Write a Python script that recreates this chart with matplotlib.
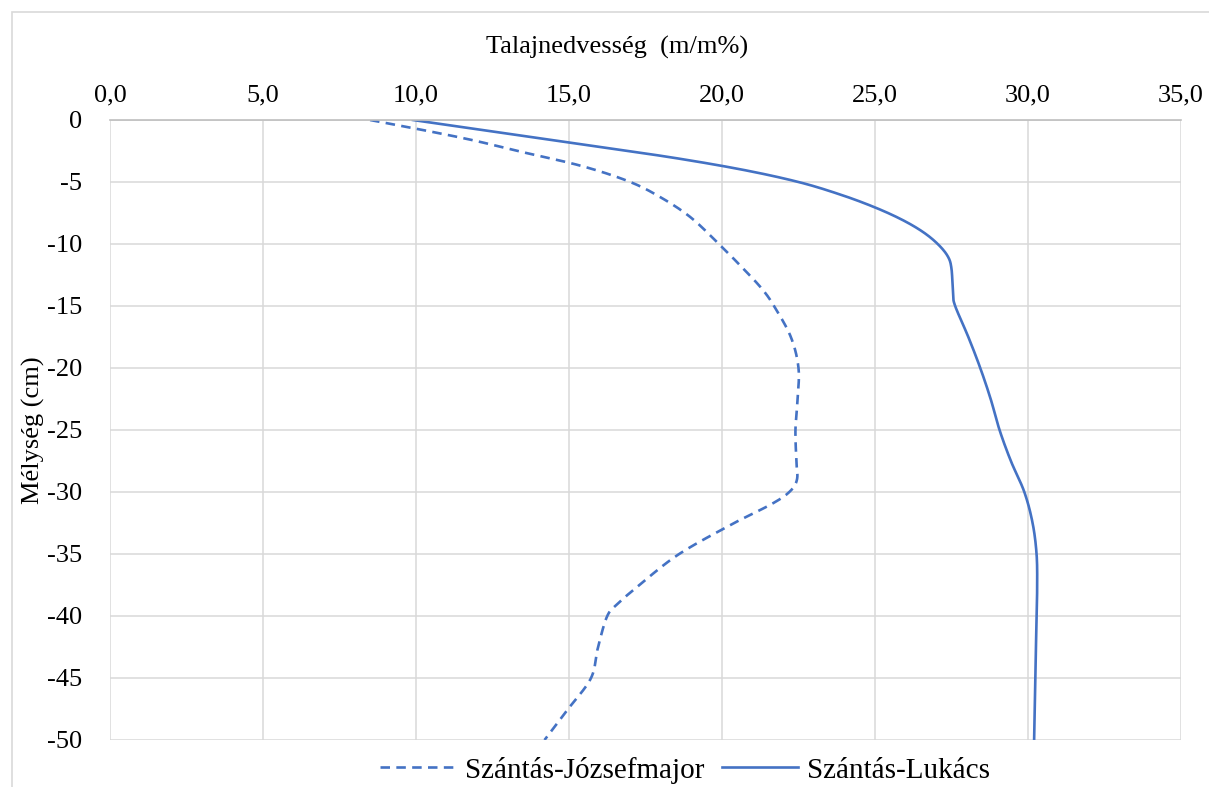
import numpy as np
import matplotlib
matplotlib.use("Agg")
import matplotlib.pyplot as plt
from matplotlib.patches import Rectangle

# depth (cm) and soil moisture (m/m%)
depth_jm = [0, -0.7, -1.6, -2.6, -3.7, -4.9, -6.1, -7.8, -10, -12, -13.6, -15,
            -17.5, -20, -22.5, -25, -27.5, -29, -30, -31, -32.5, -35, -37.5,
            -39, -40, -42.5, -45, -47.5, -50]
moist_jm = [8.5, 10.0, 11.8, 13.5, 15.4, 16.9, 17.9, 18.95, 19.9, 20.7, 21.3, 21.7,
            22.25, 22.5, 22.47, 22.4, 22.43, 22.45, 22.2, 21.6, 20.4, 18.6, 17.3,
            16.6, 16.25, 15.95, 15.72, 14.97, 14.2]

depth_lk = [0, -1, -2, -3, -4, -5, -6, -7, -8, -9, -10, -11, -12, -14, -15,
            -17.5, -20, -22.5, -25, -27.5, -30, -32.5, -35, -37.5, -40, -45, -50]
moist_lk = [9.9, 12.7, 15.5, 18.3, 20.65, 22.5, 23.85, 24.95, 25.85, 26.55, 27.05, 27.38,
            27.5, 27.55, 27.62, 28.05, 28.44, 28.78, 29.07, 29.44, 29.88, 30.15,
            30.28, 30.3, 30.28, 30.24, 30.2]

x_ticks = [0, 5, 10, 15, 20, 25, 30, 35]
y_ticks = [0, -5, -10, -15, -20, -25, -30, -35, -40, -45, -50]

blue = "#4472C4"
grid_c = "#D9D9D9"


def smooth(xs, ys, n=20):
    # catmull-rom through the read points, like excel's smoothed line
    p = np.column_stack([xs, ys]).astype(float)
    p = np.vstack([p[0], p, p[-1]])
    out = []
    for i in range(1, len(p) - 2):
        p0, p1, p2, p3 = p[i - 1], p[i], p[i + 1], p[i + 2]
        t = np.linspace(0, 1, n, endpoint=False)[:, None]
        seg = 0.5 * ((2 * p1) + (-p0 + p2) * t + (2 * p0 - 5 * p1 + 4 * p2 - p3) * t ** 2
                     + (-p0 + 3 * p1 - 3 * p2 + p3) * t ** 3)
        out.append(seg)
    out.append(p[-2][None, :])
    out = np.vstack(out)
    return out[:, 0], out[:, 1]


plt.rcParams['font.family'] = ['Liberation Serif', 'DejaVu Serif']
plt.rcParams['axes.unicode_minus'] = False

fig = plt.figure(figsize=(12.09, 7.87), dpi=100)
fig.patches.append(Rectangle((12 / 1209, -0.05), 1.2, 1 - 12 / 787 + 0.05,
                             transform=fig.transFigure, fill=False,
                             edgecolor=grid_c, linewidth=1.2))

ax = fig.add_axes([110 / 1209, 1 - 740 / 787, 1071 / 1209, 620 / 787])

xj, yj = smooth(moist_jm, depth_jm)
xl, yl = smooth(moist_lk, depth_lk)
ax.plot(xj, yj, color=blue, lw=1.9, dashes=(3.6, 2.4), label="Szántás-Józsefmajor")
ax.plot(xl, yl, color=blue, lw=1.9, label="Szántás-Lukács")

ax.set_xlim(0, 35)
ax.set_ylim(-50, 0)
ax.set_xticks(x_ticks)
ax.set_xticklabels([f"{v:.1f}".replace(".", ",") for v in x_ticks])
ax.set_yticks(y_ticks)
ax.set_yticklabels([str(v) for v in y_ticks])
ax.xaxis.tick_top()
ax.tick_params(axis='both', length=0, labelsize=19, colors="black")
ax.tick_params(axis='x', pad=10)
ax.tick_params(axis='y', pad=20)
ax.grid(True, color=grid_c, linewidth=1.1)
ax.set_axisbelow(True)
for s in ['left', 'right', 'bottom']:
    ax.spines[s].set_visible(False)
ax.spines['top'].set_color("#BFBFBF")
ax.spines['top'].set_linewidth(1.2)

fig.text(617 / 1209, 1 - 47 / 787, "Talajnedvesség  (m/m%)", fontsize=19,
         ha='center', va='center')
fig.text(33 / 1209, 1 - 430 / 787, "Mélység (cm)", fontsize=19, rotation=90,
         ha='center', va='center')

ax.legend(loc='center', bbox_to_anchor=(685 / 1209, 17 / 787), bbox_transform=fig.transFigure,
          ncol=2, frameon=False, fontsize=21, handlelength=2.6, columnspacing=0.6,
          handletextpad=0.3)

fig.savefig("out.png", dpi=100)
